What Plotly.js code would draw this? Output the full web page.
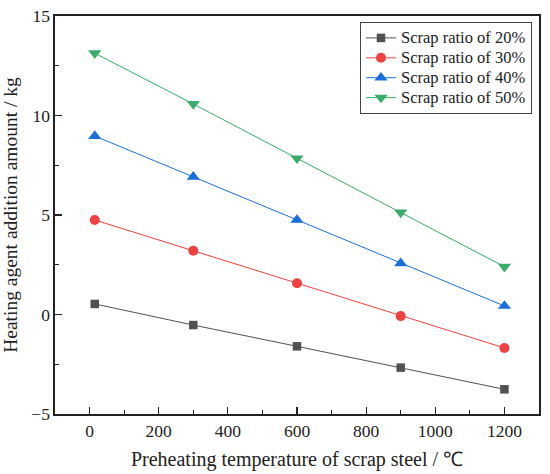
<!DOCTYPE html>
<html><head><meta charset="utf-8">
<script src="https://cdn.plot.ly/plotly-3.0.1.min.js"></script>
<style>body{margin:0;background:#fff}#c{width:550px;height:474px}</style>
</head><body><div id="c"></div>
<script>
const temps = [15, 300, 600, 900, 1200];
const ratio20 = [0.53, -0.53, -1.60, -2.67, -3.76];
const ratio30 = [4.75, 3.20, 1.57, -0.08, -1.68];
const ratio40 = [8.97, 6.92, 4.75, 2.57, 0.43];
const ratio50 = [13.13, 10.58, 7.85, 5.13, 2.40];
const names = ['Scrap ratio of 20%', 'Scrap ratio of 30%', 'Scrap ratio of 40%', 'Scrap ratio of 50%'];
const xTicks = [0, 200, 400, 600, 800, 1000, 1200];
const yTicks = [-5, 0, 5, 10, 15];
const yTickText = ['\u22125', '0', '5', '10', '15'];
const colors = ['#515151', '#F14040', '#1A6FDF', '#37AD6B'];
const symbols = ['square', 'circle', 'triangle-up', 'triangle-down'];
const sizes = [8.5, 10, 11.5, 11.5];
const series = [ratio20, ratio30, ratio40, ratio50];

const traces = series.map((ys, i) => ({
  x: temps, y: ys, name: '<span style="font-size:16.5px">' + names[i] + '</span>',
  type: 'scatter', mode: 'lines+markers',
  line: {color: colors[i], width: 1},
  marker: {color: colors[i], symbol: symbols[i], size: sizes[i]}
}));

const font = {family: '"Liberation Serif", "Times New Roman", serif', color: '#222'};
const layout = {
  width: 550, height: 474,
  margin: {l: 55, r: 11, t: 16, b: 60},
  paper_bgcolor: '#fff', plot_bgcolor: '#fff',
  font: Object.assign({size: 17}, font),
  showlegend: true,
  legend: {x: 0.9855, y: 0.985, xanchor: 'right', yanchor: 'top',
    bordercolor: '#444', borderwidth: 1, bgcolor: '#fff',
    font: Object.assign({size: 13}, font), tracegroupgap: 0, itemwidth: 30},
  xaxis: {range: [-100, 1300], tickvals: xTicks,
    ticks: 'inside', ticklen: 7, tickwidth: 1.2, tickcolor: '#222', showgrid: false, zeroline: false,
    showline: true, linecolor: '#222', linewidth: 1.6, mirror: true,
    minor: {ticks: 'inside', ticklen: 4, dtick: 100, tick0: 0, tickcolor: '#222', showgrid: false},
    tickfont: Object.assign({size: 17.5}, font),
    title: {text: 'Preheating temperature of scrap steel / \u2103', font: Object.assign({size: 20}, font), standoff: 12}},
  yaxis: {range: [-5, 15], tickvals: yTicks, ticktext: yTickText,
    ticks: 'inside', ticklen: 7, tickwidth: 1.2, tickcolor: '#222', showgrid: false, zeroline: false,
    showline: true, linecolor: '#222', linewidth: 1.6, mirror: true,
    minor: {ticks: 'inside', ticklen: 4, dtick: 2.5, tick0: 0, tickcolor: '#222', showgrid: false},
    tickfont: Object.assign({size: 17.5}, font),
    title: {text: 'Heating agent addition amount / kg', font: Object.assign({size: 19.5}, font), standoff: 9}}
};
Plotly.newPlot('c', traces, layout, {displayModeBar: false, staticPlot: true});
</script></body></html>
